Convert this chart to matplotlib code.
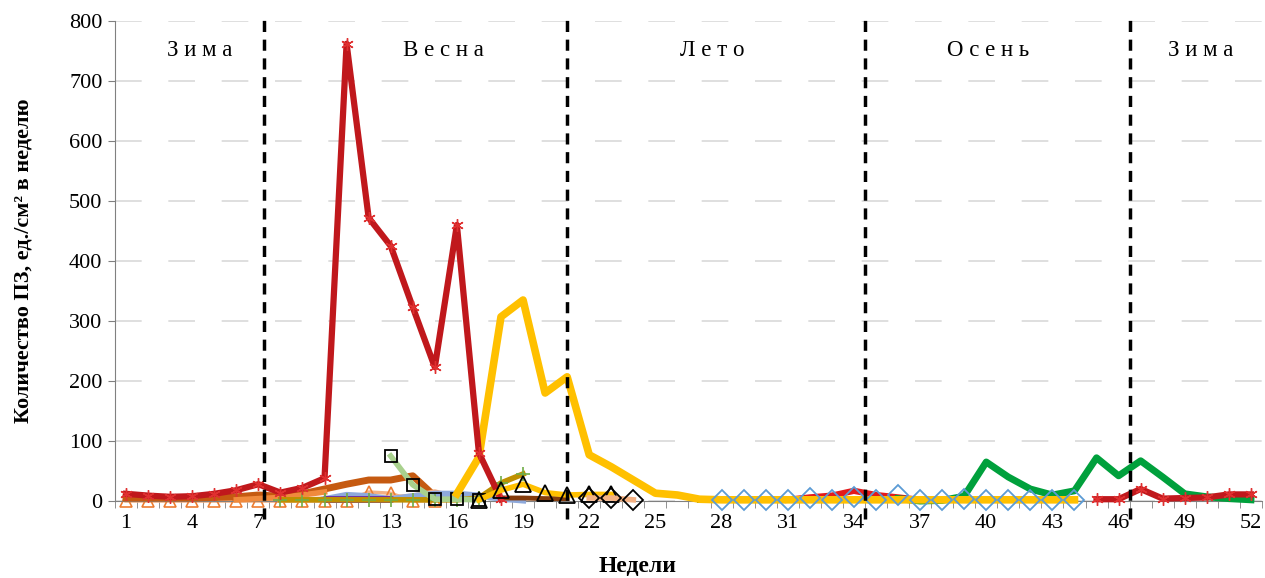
import numpy as np
import matplotlib.pyplot as plt

plt.rcParams['font.family'] = ['Liberation Serif', 'DejaVu Serif']

# Данные (ед./см² в неделю)
red_w1 = list(range(1, 19))
red_v1 = [12, 9, 7, 8, 12, 18, 28, 14, 22, 38, 762, 472, 425, 323, 223, 460, 80, 3]
red_w2 = list(range(31, 38))
red_v2 = [2, 6, 9, 17, 10, 6, 2]
red_w3 = list(range(45, 53))
red_v3 = [3, 3, 20, 4, 5, 6, 11, 11]

dorange_w = list(range(1, 16))
dorange_v = [5, 5, 5, 5, 6, 7, 10, 8, 12, 20, 28, 35, 35, 42, 8]

orange_w = list(range(6, 11))
orange_v = [2, 4, 6, 10, 15]

tri_o_w = list(range(1, 16))
tri_o_v = [0, 0, 0, 0, 0, 0, 0, 0, 0, 0, 0, 15, 13, 0, 0]

lorange_w = list(range(8, 17))
lorange_v = [2, 2, 3, 3, 3, 5, 8, 15, 5]

lblue_w = list(range(10, 20))
lblue_v = [3, 10, 8, 3, 8, 12, 12, 9, 4, 1]

purple_w = list(range(10, 14))
purple_v = [3, 3, 3, 3]

lgreen_w = list(range(13, 18))
lgreen_v = [75, 27, 3, 3, 2]

olive_w = list(range(8, 20))
olive_v = [2, 2, 2, 2, 2, 2, 2, 2, 2, 5, 30, 45]

brown_w = list(range(18, 22))
brown_v = [5, 5, 4, 4]

tri_k_w = list(range(17, 24))
tri_k_v = [2, 18, 28, 14, 10, 11, 11]

dia_k_w = [22, 23, 24]
dia_k_v = [5, 5, 2]

yellow_w = list(range(16, 45))
yellow_v = [12, 73, 307, 335, 180, 207, 77, 57, 35, 13, 10, 3] + [2] * 17

dgreen_w = [27, 28]
dgreen_v = [3, 3]

dia_b_w = list(range(28, 45))
dia_b_v = [1, 1, 1, 1, 5, 1, 7, 1, 10, 1, 1, 4, 1, 1, 1, 1, 1]

green_w = list(range(36, 53))
green_v = [4, 0, 1, 8, 65, 40, 20, 10, 17, 72, 42, 67, 40, 12, 7, 4, 2]

borders = [7.25, 21, 34.5, 46.5]
seasons = ['З и м а', 'В е с н а', 'Л е т о', 'О с е н ь', 'З и м а']
season_x = [4.35, 15.4, 27.6, 40.1, 49.7]

fig = plt.figure(figsize=(12.65, 5.78), dpi=100)
ax = fig.add_axes([0.0909, 0.1332, 0.9067, 0.8305])

kw = dict(clip_on=False)
ax.plot(tri_o_w, tri_o_v, color='#F4B183', lw=2.5, marker='^', ms=9,
        mfc='none', mec='#ED7D31', mew=1.2, zorder=2, **kw)
ax.plot(dorange_w, dorange_v, color='#C55A11', lw=5, zorder=3, **kw)
ax.plot(orange_w, orange_v, color='#F08A3C', lw=4, zorder=3, **kw)
ax.plot(lorange_w, lorange_v, color='#F4B183', lw=4, zorder=3, **kw)
ax.plot(lblue_w, lblue_v, color='#8EA9DB', lw=4.5, zorder=3, **kw)
ax.plot(purple_w, purple_v, color='#7030A0', lw=5, solid_capstyle='round', zorder=3, **kw)
ax.plot(olive_w, olive_v, color='#BF9000', lw=4, marker='+', ms=10,
        mec='#70AD47', mew=1.2, zorder=3, **kw)
ax.plot(lgreen_w, lgreen_v, color='#A9D18E', lw=4, marker='s', ms=9,
        mfc='none', mec='black', mew=1.3, zorder=4, **kw)
ax.plot(brown_w, brown_v, color='#843C0C', lw=3.5, zorder=3, **kw)
star = (6, 2, 0)
for w, v in [(red_w1, red_v1), (red_w3, red_v3)]:
    ax.plot(w, v, color='#C0181C', lw=4.5, marker=star, ms=9,
            mec='#E03030', mew=1.0, zorder=5, **kw)
ax.plot(red_w2, red_v2, color='#E31A1C', lw=4.5, zorder=3, **kw)
ax.plot(dgreen_w, dgreen_v, color='#548235', lw=5, zorder=3, **kw)
ax.plot(green_w, green_v, color='#00A03C', lw=5, zorder=3, **kw)
ax.plot(yellow_w, yellow_v, color='#FFC000', lw=5.5, zorder=4, **kw)
ax.plot(tri_k_w, tri_k_v, color='#FFC000', lw=4, marker='^', ms=11,
        mfc='none', mec='black', mew=1.3, zorder=6, **kw)
ax.plot(dia_k_w, dia_k_v, color='#F4B183', lw=4, marker='D', ms=10,
        mfc='none', mec='black', mew=1.3, zorder=6, **kw)
ax.plot(dia_b_w, dia_b_v, ls='none', marker='D', ms=10,
        mfc='none', mec='#5B9BD5', mew=1.3, zorder=6, **kw)

for b in borders:
    ax.plot([b, b], [-30, 805], color='black', lw=2.5, ls=(0, (3.2, 2.2)),
            clip_on=False, zorder=7)

for name, sx in zip(seasons, season_x):
    ax.text(sx, 750, name, ha='center', va='center', fontsize=16.5)

ax.set_xlim(0.5, 52.5)
ax.set_ylim(0, 800)
ax.set_yticks(range(0, 801, 100))
ax.set_xticks(range(1, 53, 3))
ax.set_xticks(np.arange(0.5, 53, 1), minor=True)
ax.tick_params(axis='x', which='major', length=0, labelsize=16, pad=9)
ax.tick_params(axis='x', which='minor', length=5, color='#808080', direction='out')
ax.tick_params(axis='y', length=5, color='#808080', labelsize=16, pad=4)
ax.grid(axis='y', color='#D9D9D9', lw=1.2, ls=(0, (16, 16)))
ax.set_axisbelow(True)
for s in ['top', 'right']:
    ax.spines[s].set_visible(False)
for s in ['left', 'bottom']:
    ax.spines[s].set_color('#808080')

ax.set_xlabel('Недели', fontsize=17, fontweight='bold')
ax.set_ylabel('Количество ПЗ, ед./см² в неделю', fontsize=16,
              fontweight='bold')
ax.xaxis.set_label_coords(0.456, -0.115)
ax.yaxis.set_label_coords(-0.071, 0.5)

plt.savefig('out.png', dpi=100)
